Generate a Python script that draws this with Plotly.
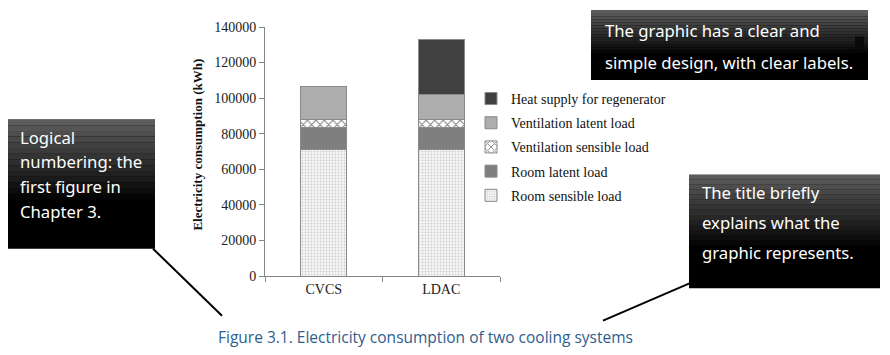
import plotly.graph_objects as go

# ---- data ----
systems = ["CVCS", "LDAC"]
room_sensible = [71000, 71000]
room_latent = [12500, 12500]
vent_sensible = [4500, 4500]
vent_latent = [18300, 14000]
heat_supply = [None, 30800]
y_ticks = [0, 20000, 40000, 60000, 80000, 100000, 120000, 140000]

OFF = 8                  # page body margin
W, H = 890 - OFF, 355 - OFF
L, R = 265, 500          # plot area x pixels (screen)
T, B = 23.3, 275.7       # plot area y pixels (screen)

def px(x):
    return (x - L) / (R - L)

def py(y):
    return (B - y) / (B - T)

SERIF = "Liberation Serif, Times New Roman, serif"
HAND = "Noto Sans, Open Sans, sans-serif"
EDGE = dict(color="#8a8a8a", width=1)

fig = go.Figure()
series = [
    ("Room sensible load", room_sensible, 5, dict(color="#f2f2f2", line=EDGE,
        pattern=dict(shape=".", fgcolor="#a8a8a8", bgcolor="#f6f6f6", size=3, solidity=0.3))),
    ("Room latent load", room_latent, 4, dict(color="#7f7f7f", line=EDGE)),
    ("Ventilation sensible load", vent_sensible, 3, dict(color="#ffffff", line=EDGE,
        pattern=dict(shape="x", fgcolor="#111111", bgcolor="#ffffff", size=6, solidity=0.35))),
    ("Ventilation latent load", vent_latent, 2, dict(color="#adadad", line=EDGE)),
    ("Heat supply for regenerator", heat_supply, 1, dict(color="#404040", line=EDGE)),
]
for name, vals, rank, mk in series:
    fig.add_trace(go.Bar(x=systems, y=vals, name=name, marker=mk, width=0.395,
                         legendgroup=name, legendrank=rank))

shapes = []
annotations = []

def gradient_box(x0, y0, x1, y1):
    n = 14
    frac = 0.62
    hgt = (y1 - y0)
    shapes.append(dict(type="rect", xref="paper", yref="paper",
                       x0=px(x0), x1=px(x1), y0=py(y1), y1=py(y0),
                       fillcolor="#000000", line=dict(width=0), layer="above"))
    for i in range(n):
        ya = y0 + hgt * frac * i / n
        yb = y0 + hgt * frac * (i + 1) / n
        g = int(0x5c * (1 - i / n))
        col = "#%02x%02x%02x" % (g, g, g)
        shapes.append(dict(type="rect", xref="paper", yref="paper",
                           x0=px(x0), x1=px(x1), y0=py(yb), y1=py(ya),
                           fillcolor=col, line=dict(width=0), layer="above"))

def box_text(x, y, txt, size=16.7):
    annotations.append(dict(x=px(x), y=py(y), xref="paper", yref="paper",
                            text=txt, showarrow=False, xanchor="left", yanchor="middle",
                            font=dict(family=HAND, size=size, color="#ffffff")))

# top-right box
gradient_box(591, 6, 868, 77)
shapes.append(dict(type="rect", xref="paper", yref="paper",
                   x0=px(855), x1=px(864), y0=py(46), y1=py(33),
                   fillcolor="#0a0a0a", line=dict(width=0), layer="above"))
box_text(603, 27, "The graphic has a clear and")
box_text(603, 59, "simple design, with clear labels.")

# left box
gradient_box(7, 117, 155, 248)
box_text(18, 135, "Logical")
box_text(18, 160, "numbering: the")
box_text(18, 185, "first figure in")
box_text(18, 210, "Chapter 3.")

# bottom-right box
gradient_box(689, 173, 880, 288)
box_text(700, 191, "The title briefly")
box_text(700, 221, "explains what the")
box_text(700, 252, "graphic represents.")

# callout lines
shapes.append(dict(type="line", xref="paper", yref="paper",
                   x0=px(153), y0=py(248), x1=px(222), y1=py(316),
                   line=dict(color="#000000", width=2)))
shapes.append(dict(type="line", xref="paper", yref="paper",
                   x0=px(690), y0=py(283), x1=px(603), y1=py(321),
                   line=dict(color="#000000", width=2)))

# y-axis title
annotations.append(dict(x=px(198), y=py(142.5), xref="paper", yref="paper",
                        text="<b>Electricity consumption (kWh)</b>", textangle=-90,
                        showarrow=False, xanchor="center", yanchor="middle",
                        font=dict(family=SERIF, size=13, color="#111111")))
# caption
annotations.append(dict(x=px(425), y=py(338), xref="paper", yref="paper",
                        text="Figure 3.1. Electricity consumption of two cooling systems",
                        showarrow=False, xanchor="center", yanchor="middle",
                        font=dict(family="Open Sans, Noto Sans, sans-serif", size=15.5,
                                  color="#2e5d8e")))

fig.update_layout(
    width=W, height=H,
    margin=dict(l=L - OFF, r=W - (R - OFF), t=T - OFF, b=H - (B - OFF), pad=0),
    barmode="stack",
    bargap=0.6,
    paper_bgcolor="#ffffff", plot_bgcolor="#ffffff",
    showlegend=True,
    legend=dict(x=px(471), xanchor="left", y=py(80), yanchor="top",
                traceorder="grouped", tracegroupgap=3,
                bgcolor="rgba(0,0,0,0)", borderwidth=0,
                font=dict(family=SERIF, size=14, color="#111111")),
    shapes=shapes,
    annotations=annotations,
)
fig.update_yaxes(range=[0, 140000], tickvals=y_ticks, tickformat="d",
                 showgrid=False, zeroline=False, showline=True, linecolor="#868686",
                 linewidth=1, ticks="outside", ticklen=5, tickcolor="#868686",
                 tickfont=dict(family=SERIF, size=14, color="#222222"))
fig.update_xaxes(range=[-0.5, 1.5], showgrid=False, showline=True, linecolor="#868686",
                 linewidth=1, ticks="outside", ticklen=5, tickcolor="#868686",
                 tickson="boundaries",
                 tickfont=dict(family=SERIF, size=14, color="#222222"))

fig.write_html("out.html")
